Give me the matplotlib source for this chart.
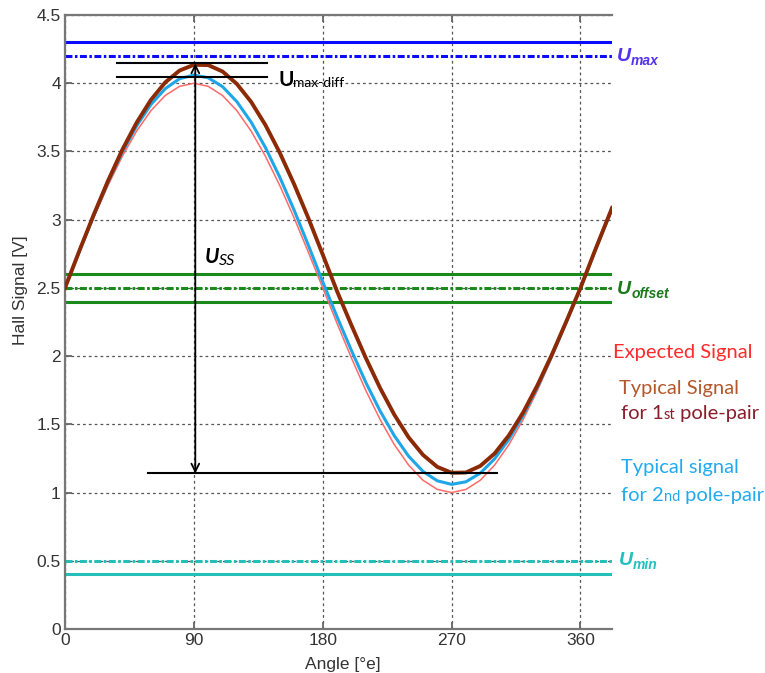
import matplotlib
matplotlib.use("Agg")
import matplotlib.pyplot as plt
from matplotlib import font_manager

# ---------------- data ----------------
angles = [0, 10, 20, 30, 40, 50, 60, 70, 80, 90, 100, 110, 120, 130, 140, 150, 160, 170, 180,
          190, 200, 210, 220, 230, 240, 250, 260, 270, 280, 290, 300, 310, 320, 330, 340, 350,
          360, 370, 382]
expected = [2.5, 2.760, 3.013, 3.25, 3.464, 3.649, 3.799, 3.910, 3.977, 4.0, 3.977, 3.910, 3.799,
            3.649, 3.464, 3.25, 3.013, 2.760, 2.5, 2.240, 1.987, 1.75, 1.536, 1.351, 1.201, 1.090,
            1.023, 1.0, 1.023, 1.090, 1.201, 1.351, 1.536, 1.75, 1.987, 2.240, 2.5, 2.760, 3.062]
typical_1st = [2.5, 2.771, 3.035, 3.284, 3.512, 3.711, 3.878, 4.006, 4.093, 4.135, 4.133, 4.086,
               3.995, 3.863, 3.693, 3.490, 3.260, 3.010, 2.744, 2.475, 2.227, 1.988, 1.767, 1.570,
               1.404, 1.276, 1.188, 1.145, 1.147, 1.195, 1.286, 1.419, 1.588, 1.788, 2.011, 2.252,
               2.5, 2.771, 3.086]
typical_2nd = [2.5, 2.768, 3.029, 3.274, 3.495, 3.687, 3.844, 3.960, 4.033, 4.060, 4.040, 3.975,
               3.865, 3.715, 3.528, 3.311, 3.070, 2.811, 2.544, 2.288, 2.042, 1.809, 1.599, 1.416,
               1.266, 1.155, 1.086, 1.060, 1.079, 1.142, 1.247, 1.390, 1.567, 1.774, 2.003, 2.247,
               2.5, 2.768, 3.079]

umax_limit, umax_nominal = 4.3, 4.2
uoffset_hi, uoffset_nom, uoffset_lo = 2.6, 2.5, 2.4
umin_nominal, umin_limit = 0.5, 0.4
peak_1st, peak_2nd, valley_1st = 4.145, 4.045, 1.14
peak_lines_x = (36, 141)
valley_line_x = (58, 302)
uss_arrow_x = 91

x_ticks = [0, 90, 180, 270, 360]
y_ticks = [0, 0.5, 1, 1.5, 2, 2.5, 3, 3.5, 4, 4.5]
x_tick_labels = ["0", "90", "180", "270", "360"]
y_tick_labels = ["0", "0.5", "1", "1.5", "2", "2.5", "3", "3.5", "4", "4.5"]

# ---------------- style ----------------
avail = {f.name for f in font_manager.fontManager.ttflist}
narrow = "Liberation Sans Narrow" if "Liberation Sans Narrow" in avail else "Liberation Sans"
calibri = "Lato" if "Lato" in avail else "DejaVu Sans"
plt.rcParams["lines.scale_dashes"] = False

W, H = 765, 673
fig = plt.figure(figsize=(W / 100, H / 100), dpi=100)
ax = fig.add_axes([65 / W, 1 - 629 / H, (612 - 65) / W, (629 - 15) / H])

ax.set_xlim(0, 382)
ax.set_ylim(0, 4.5)
ax.set_xticks(x_ticks)
ax.set_xticklabels(x_tick_labels)
ax.set_yticks(y_ticks)
ax.set_yticklabels(y_tick_labels)
for lab in ax.get_xticklabels() + ax.get_yticklabels():
    lab.set_fontfamily(narrow)
    lab.set_fontsize(12.5)
    lab.set_color("#333333")
ax.tick_params(direction="in", length=5, width=1.3, color="#666666", top=True, right=False,
               pad=3)
for s in ["left", "bottom", "top"]:
    ax.spines[s].set_color("#777777")
    ax.spines[s].set_linewidth(1.6)
ax.spines["right"].set_visible(False)
ax.grid(True, color="#555555", linestyle=(0, (2.0, 2.2)), linewidth=0.9)
ax.set_axisbelow(True)

dashdot = (0, (5, 1.8, 1.8, 1.8))

# reference lines
ax.axhline(umax_limit, color="#0a0aff", lw=2.2)
ax.axhline(umax_nominal, color="#0a0aff", lw=2.2, linestyle=dashdot)
ax.axhline(uoffset_hi, color="#1a8a1a", lw=2.2)
ax.axhline(uoffset_nom, color="#1a8a1a", lw=2.2, linestyle=dashdot)
ax.axhline(uoffset_lo, color="#1a8a1a", lw=2.2)
ax.axhline(umin_nominal, color="#22c0b8", lw=2.2, linestyle=dashdot)
ax.axhline(umin_limit, color="#22c0b8", lw=2.2)

# signals
ax.plot(angles, expected, color="#ff6a6a", lw=1.1, zorder=3, solid_joinstyle="round")
ax.plot(angles, typical_2nd, color="#1ea6e6", lw=2.2, zorder=4, solid_joinstyle="round")
ax.plot(angles, typical_1st, color="#8c2a06", lw=2.8, zorder=5, solid_joinstyle="round")

# annotation lines
ax.plot(peak_lines_x, [peak_1st, peak_1st], color="black", lw=1.5, zorder=6)
ax.plot(peak_lines_x, [peak_2nd, peak_2nd], color="black", lw=1.5, zorder=6)
ax.plot(valley_line_x, [valley_1st, valley_1st], color="black", lw=1.5, zorder=6)
ax.annotate("", xy=(uss_arrow_x, peak_1st), xytext=(uss_arrow_x, valley_1st),
            arrowprops=dict(arrowstyle="<->", color="black", lw=1.3, shrinkA=0, shrinkB=0,
                            mutation_scale=14), zorder=7)

# axis labels
fig.text(21 / W, 1 - 290 / H, "Hall Signal [V]", rotation=90, ha="center", va="center",
         fontsize=12.5, family=narrow, color="#333333")
fig.text(343 / W, 1 - 665 / H, "Angle [°e]", ha="center", va="center",
         fontsize=12.5, family=narrow, color="#333333")

fig.canvas.draw()
renderer = fig.canvas.get_renderer()


def chain(xpx, pieces):
    """pieces: list of (text, baseline_px, kwargs); placed left to right."""
    x = xpx
    for s, base, kw in pieces:
        t = fig.text(x / W, 1 - base / H, s, ha="left", va="baseline", **kw)
        bb = t.get_window_extent(renderer)
        x = bb.x1


ubig = dict(family="Liberation Sans", fontsize=14, fontweight="bold", style="italic")
usub = dict(family="Liberation Sans", fontsize=10, fontweight="bold", style="italic")

chain(617, [("U", 61, dict(ubig, color="#5532ee")), ("max", 65, dict(usub, color="#5532ee"))])
chain(617, [("U", 294, dict(ubig, color="#1b7a1b")), ("offset", 298, dict(usub, color="#1b7a1b"))])
chain(619, [("U", 565, dict(ubig, color="#22c0c0")), ("min", 569, dict(usub, color="#22c0c0"))])

chain(205, [("U", 263, dict(family=calibri, fontsize=15, fontweight="bold", style="italic",
                            color="black")),
            ("SS", 265, dict(family=calibri, fontsize=11.5, style="italic", color="black"))])
chain(278, [("U", 86, dict(family=calibri, fontsize=15, fontweight="bold", color="black")),
            ("max-diff", 87, dict(family=calibri, fontsize=10, color="black"))])

rt = dict(family=calibri, fontsize=14.5)
rs = dict(family=calibri, fontsize=10.5)
chain(613, [("Expected Signal", 358, dict(rt, color="#ff2a2a"))])
chain(619, [("Typical Signal", 394, dict(rt, color="#b4582c"))])
chain(621, [("for 1", 419, dict(rt, color="#8a1c2c")),
            ("st", 419, dict(rs, color="#8a1c2c")),
            (" pole-pair", 419, dict(rt, color="#8a1c2c"))])
chain(621, [("Typical signal", 473, dict(rt, color="#22aaf0"))])
chain(621, [("for 2", 501, dict(rt, color="#22aaf0")),
            ("nd", 501, dict(rs, color="#22aaf0")),
            (" pole-pair", 501, dict(rt, color="#22aaf0"))])

fig.savefig("out.png", dpi=100)
